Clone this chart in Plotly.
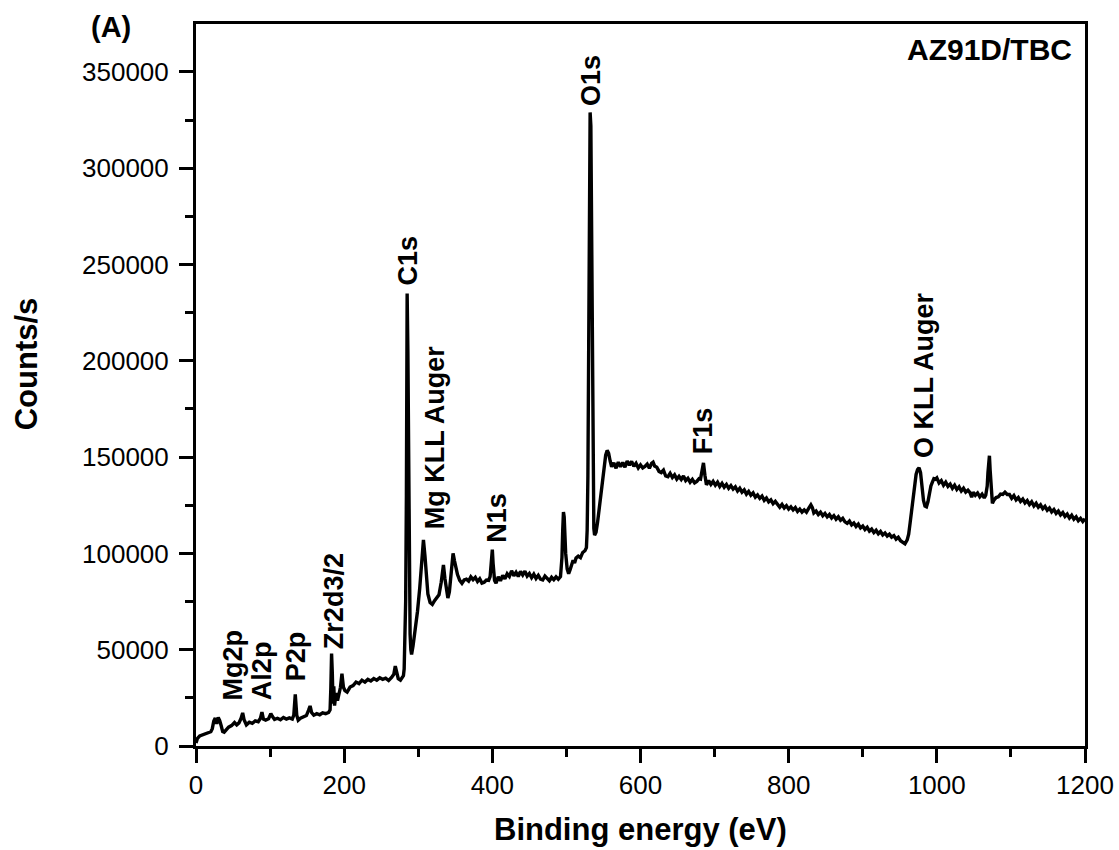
import plotly.graph_objects as go

# XPS survey spectrum of AZ91D/TBC, binding energy (eV) vs counts/s
be_low = [0, 2, 5, 8, 12, 16, 20, 22, 24, 26, 28, 30, 32, 34, 36, 38, 41, 44, 48, 52, 55, 58, 61, 63, 65, 68,
          72, 76, 80, 84, 87, 89, 91, 94, 98, 101, 103, 106, 110, 114, 118, 122, 126, 130, 132, 134, 136, 138,
          141, 145, 149, 152, 154, 156, 159, 163, 167, 171, 175, 179, 181, 182, 183, 184, 185, 186, 187, 189,
          191, 193, 195, 197, 199, 201, 204, 208, 212, 216, 220, 224, 228, 232, 236, 240, 244, 248, 252, 256,
          260, 264, 267, 269, 271, 273, 276, 279]
cps_low = [1500, 4000, 5200, 5600, 6200, 6600, 7400, 9000, 13000, 14500, 11500, 14800, 13200, 10500, 7500, 7200,
           8400, 9800, 10600, 12200, 11000, 12000, 14500, 17200, 13500, 11000, 12400, 11800, 13000, 12600, 14400,
           17600, 14000, 13400, 14200, 16800, 15400, 13800, 14400, 13600, 14800, 14000, 14600, 14000, 16000,
           26800, 16000, 13400, 14400, 15000, 15800, 18600, 20800, 17400, 16000, 16800, 16200, 17200, 16800,
           17400, 18800, 30000, 48000, 38000, 22000, 31000, 21000, 27500, 23500, 27000, 30500, 37500, 30500,
           28800, 28000, 30600, 31400, 33200, 32400, 34200, 33200, 34600, 33800, 35000, 34200, 35400, 34600,
           35200, 34000, 35600, 37200, 41500, 38000, 35000, 34200, 35800]

be_mid = [280, 281, 282, 283, 284, 285, 286, 287, 288, 289, 290, 291, 293, 296, 299, 302, 305, 307, 309, 311, 313,
          316, 319, 322, 325, 328, 331, 333, 334, 336, 338, 340, 342, 344, 346, 347, 349, 351, 353, 356, 359, 362,
          365, 368, 371, 374, 377, 380, 383, 386, 389, 392, 395, 397, 399, 400, 401, 403, 405, 408, 411, 414, 417,
          420, 423, 426, 429, 432, 435, 438, 441, 444, 447, 450, 453, 456, 459, 462, 465, 468, 471, 474, 477, 480,
          483, 486, 489, 492, 494, 495, 496, 497, 498, 499, 501, 503, 505, 507, 509, 511, 513, 516, 519, 522, 525,
          527, 528, 529, 530, 531, 532, 533, 534, 535, 536, 537, 538, 540, 542, 545, 548, 551, 553, 555, 557, 559,
          561, 564, 567, 570, 573, 576, 579, 582, 585, 588, 591, 594, 597]
cps_mid = [36500, 40000, 55000, 75000, 130000, 235000, 205000, 130000, 80000, 58000, 50000, 47500, 52000, 60000,
           70000, 82000, 96000, 107000, 99000, 87000, 79000, 74500, 73500, 75500, 76800, 78500, 85000, 92000,
           94000, 87000, 80000, 76800, 80000, 89000, 97500, 100000, 96000, 91500, 89000, 86000, 84500, 86200,
           86600, 85600, 87800, 86400, 87600, 85400, 86800, 84600, 85000, 86200, 86000, 88000, 97000, 102000,
           95000, 86000, 84600, 87800, 85800, 88600, 86800, 89400, 88000, 91000, 88400, 90200, 88000, 90600,
           88800, 90800, 88200, 89600, 87400, 89200, 87000, 88600, 86600, 86200, 88200, 86800, 85800, 87600,
           86400, 87800, 86600, 88000, 98000, 112000, 121500, 119000, 108000, 100000, 92000, 89500, 91500, 94000,
           96500, 95000, 97600, 98600, 97800, 100500, 101400, 103000, 112000, 140000, 210000, 295000, 329000,
           322000, 255000, 175000, 128000, 113000, 109500, 111000, 116000, 126000, 135000, 145000, 151000, 153500,
           152000, 148000, 145000, 147000, 144200, 147400, 145000, 147200, 144800, 148000, 145800, 147800, 145200,
           146800, 144400]

be_high = [600, 603, 606, 609, 612, 615, 617, 619, 622, 625, 628, 631, 634, 637, 640, 643, 646, 649, 652, 655, 658,
           661, 664, 667, 670, 673, 676, 679, 681, 683, 685, 687, 689, 692, 695, 698, 701, 704, 707, 710, 713, 716,
           719, 722, 725, 728, 731, 734, 737, 740, 743, 746, 749, 752, 755, 758, 761, 764, 767, 770, 773, 776, 779,
           782, 785, 788, 791, 794, 797, 800, 803, 806, 809, 812, 815, 818, 821, 824, 827, 830, 832, 834, 837, 840,
           843, 846, 849, 852, 855, 858, 861, 864, 867, 870, 873, 876, 879, 882, 885, 888, 891, 894, 897, 900, 903,
           906, 909, 912, 915, 918, 921, 924, 927, 930, 933, 936, 939, 942, 945, 948, 951, 954, 957, 960, 962, 964,
           966, 968, 970, 972, 974, 976, 978, 980, 982, 984, 986, 988, 990, 992, 994, 996, 998, 1000, 1003, 1006,
           1009, 1012, 1015, 1018, 1021, 1024, 1027, 1030, 1033, 1036, 1039, 1042, 1045, 1047, 1049, 1052, 1055,
           1058, 1061, 1064, 1066, 1068, 1069, 1070, 1071, 1072, 1073, 1075, 1077, 1080, 1083, 1086, 1089, 1092,
           1095, 1098, 1101, 1104, 1107, 1110, 1113, 1116, 1119, 1122, 1125, 1128, 1131, 1134, 1137, 1140, 1143,
           1146, 1149, 1152, 1155, 1158, 1161, 1164, 1167, 1170, 1173, 1176, 1179, 1182, 1185, 1188, 1191, 1194,
           1197, 1200]
cps_high = [146000, 144400, 145200, 146400, 144200, 146800, 147400, 145400, 144800, 142600, 142000, 143200, 140200,
            139800, 141600, 139400, 140800, 138600, 140000, 138400, 140200, 137800, 139000, 137000, 138400, 136600,
            137400, 138800, 138600, 144000, 147000, 140500, 135600, 137800, 135800, 137400, 135400, 137000, 134800,
            136400, 134400, 135800, 133800, 135200, 133400, 134600, 132400, 133800, 131800, 133000, 130800, 132200,
            130200, 131400, 129200, 130400, 128600, 129800, 127600, 128800, 126800, 127800, 125800, 127000, 125200,
            124000, 125400, 123600, 124800, 123000, 124200, 122600, 123800, 121800, 123000, 121400, 122600, 121400,
            123400, 125200, 123800, 121000, 122000, 120200, 121400, 119600, 120800, 119000, 120200, 118400, 119600,
            117800, 119000, 117200, 118200, 116400, 115600, 116800, 114800, 115800, 114000, 115200, 113200, 114200,
            112400, 113600, 111600, 112600, 110800, 112000, 110200, 111400, 109600, 110600, 109000, 110000, 108400,
            109200, 107400, 108400, 106600, 105600, 105000, 107000, 110000, 116000, 123000, 130000, 136000, 141000,
            143500, 144500, 142000, 134000, 127500, 124600, 124200, 126800, 131500, 135000, 137000, 138800, 138500,
            139200, 136600, 137800, 135400, 137000, 134800, 136000, 133800, 135400, 133200, 134600, 132400, 133800,
            131800, 132800, 131400, 129200, 131800, 130200, 131400, 129400, 130800, 128800, 130200, 135000, 142000,
            148000, 150700, 143000, 134000, 126000, 127600, 129000, 129400, 130800, 130600, 131800, 130600, 130600,
            128600, 130000, 127800, 129000, 127000, 128200, 126200, 127400, 125400, 126800, 124600, 126000, 124000,
            125200, 123200, 124400, 122400, 123600, 121600, 122800, 120800, 122000, 120000, 121200, 119200, 120400,
            118400, 119800, 117800, 119000, 117000, 118200, 116600, 118000]

# Peak assignments: label text, binding energy, counts where the label starts
peak_names = ["Mg2p", "Al2p", "P2p", "Zr2d3/2", "C1s", "Mg KLL Auger", "N1s", "O1s", "F1s", "O KLL Auger"]
peak_be = [50, 89, 136, 185.6, 286, 322.7, 406, 533, 684.5, 982]
peak_counts = [22300, 23000, 32500, 49000, 238000, 111300, 104400, 331500, 150200, 148500]

energy = be_low + be_mid + be_high
counts = cps_low + cps_mid + cps_high

FONT = "Arial, Liberation Sans, sans-serif"

fig = go.Figure()
fig.add_trace(go.Scatter(x=energy, y=counts, mode="lines",
                         line=dict(color="black", width=3.4), showlegend=False))

annotations = []
for name, xb, yb in zip(peak_names, peak_be, peak_counts):
    annotations.append(dict(x=xb, y=yb, xref="x", yref="y", text=name, textangle=-90,
                            showarrow=False, xanchor="center", yanchor="bottom",
                            font=dict(family=FONT, size=27, color="black", weight="bold")))

annotations += [
    dict(x=0.9876, y=0.964, xref="paper", yref="paper", text="AZ91D/TBC", showarrow=False,
         xanchor="right", yanchor="middle", font=dict(family=FONT, size=30, color="black", weight="bold")),
    dict(x=-0.0956, y=0.996, xref="paper", yref="paper", text="(A)", showarrow=False,
         xanchor="center", yanchor="middle", font=dict(family=FONT, size=29, color="black", weight="bold")),
    dict(x=0.5, y=-0.115, xref="paper", yref="paper", text="Binding energy (eV)", showarrow=False,
         xanchor="center", yanchor="middle", font=dict(family=FONT, size=31, color="black", weight="bold")),
    dict(x=-0.191, y=0.529, xref="paper", yref="paper", text="Counts/s", textangle=-90, showarrow=False,
         xanchor="center", yanchor="middle", font=dict(family=FONT, size=31, color="black", weight="bold")),
]

axis_common = dict(showgrid=False, zeroline=False, showline=True, linecolor="black", linewidth=3,
                   mirror=True, ticks="outside", ticklen=14, tickwidth=3, tickcolor="black",
                   automargin=False, tickfont=dict(family=FONT, size=26, color="black"))

fig.update_layout(
    width=1119, height=850,
    margin=dict(l=196, r=34, t=24, b=104),
    paper_bgcolor="white", plot_bgcolor="white",
    xaxis=dict(range=[0, 1200], dtick=200, tick0=0,
               minor=dict(dtick=100, ticklen=8, tickwidth=3, tickcolor="black", ticks="outside"),
               **axis_common),
    yaxis=dict(range=[0, 374900], dtick=50000, tick0=0, tickformat="d", ticklabelstandoff=5,
               minor=dict(dtick=25000, ticklen=8, tickwidth=3, tickcolor="black", ticks="outside"),
               **axis_common),
    annotations=annotations,
)

fig.write_html("out.html")
